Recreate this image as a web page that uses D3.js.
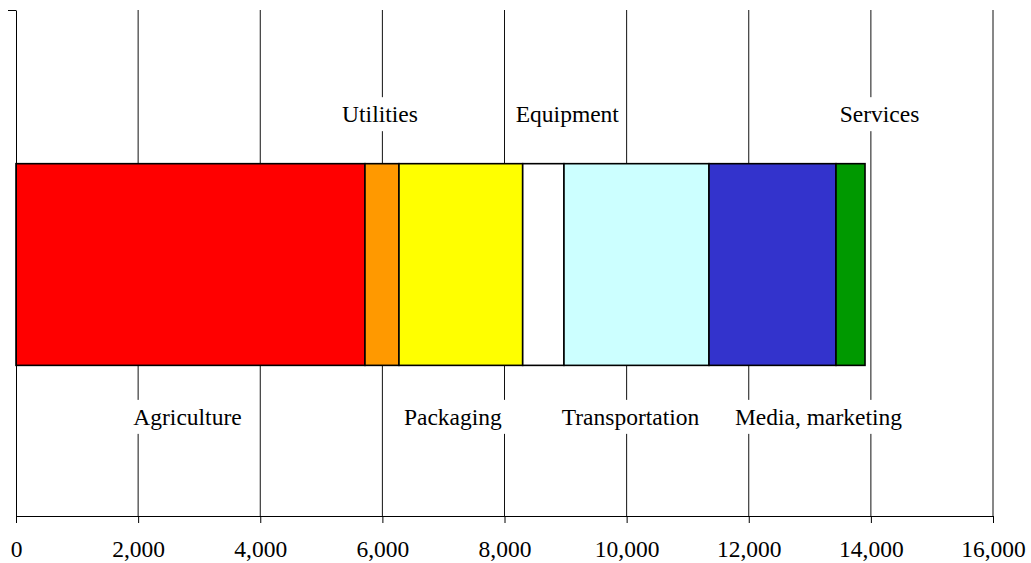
<!DOCTYPE html>
<html>
<head>
<meta charset="utf-8">
<script src="https://cdn.jsdelivr.net/npm/d3@7"></script>
<style>
  html, body { margin: 0; padding: 0; background: #fff; }
  svg { display: block; }
  text { font-family: "Liberation Serif", "Times New Roman", serif; fill: #000; }
</style>
</head>
<body>
<div id="chart"></div>
<script>
// cost breakdown, one stacked bar
const categories = ["Agriculture", "Utilities", "Packaging", "Equipment", "Transportation", "Media, marketing", "Services"];
const values = [5715, 557, 2026, 676, 2375, 2080, 475];
const colors = ["#FF0000", "#FF9900", "#FFFF00", "#FFFFFF", "#CCFFFF", "#3333CC", "#009900"];
const xTicks = [0, 2000, 4000, 6000, 8000, 10000, 12000, 14000, 16000];

const width = 1031;
const height = 563;
const margin = {top: 10, right: 38, bottom: 47, left: 16};

const svg = d3.select("#chart")
    .append("svg")
    .attr("width", width)
    .attr("height", height);

const x = d3.scaleLinear()
    .domain([0, 16000])
    .range([margin.left, width - margin.right]);

const y = d3.scaleBand()
    .domain(["cost"])
    .range([height - margin.bottom, margin.top])
    .padding(0.43)
    .align(0.505);

// which labels sit above the bar (the rest go below)
const aboveSet = new Set(["Utilities", "Equipment", "Services"]);

// stacked segments
let acc = 0;
const segs = categories.map((c, i) => {
    const s = {name: c, x0: acc, x1: acc + values[i], color: colors[i], above: aboveSet.has(c)};
    acc += values[i];
    return s;
});

// vertical gridlines
svg.append("g")
    .selectAll("line")
    .data(xTicks.slice(1))
    .enter().append("line")
    .attr("x1", d => x(d))
    .attr("x2", d => x(d))
    .attr("y1", margin.top)
    .attr("y2", height - margin.bottom)
    .attr("stroke", "#111")
    .attr("stroke-width", 1);

// bar
svg.append("g")
    .selectAll("rect")
    .data(segs)
    .enter().append("rect")
    .attr("x", d => x(d.x0))
    .attr("y", y("cost"))
    .attr("width", d => x(d.x1) - x(d.x0))
    .attr("height", y.bandwidth())
    .attr("fill", d => d.color)
    .attr("stroke", "#000")
    .attr("stroke-width", 1.6);

// bottom axis
const xAxis = svg.append("g")
    .attr("transform", `translate(0,${height - margin.bottom})`)
    .call(d3.axisBottom(x).tickValues(xTicks).tickFormat(d3.format(",")).tickSize(7).tickSizeOuter(0));
xAxis.select(".domain").attr("stroke", "#000");
xAxis.selectAll(".tick line").attr("stroke", "#000");
xAxis.selectAll(".tick text")
    .attr("y", 41)
    .attr("dy", 0)
    .style("font-family", "'Liberation Serif', serif")
    .style("font-size", "23.5px")
    .attr("fill", "#000");

// left axis, just the line and a top tick
const yLine = d3.scaleLinear().domain([0, 1]).range([height - margin.bottom, margin.top]);
const yAxis = svg.append("g")
    .attr("transform", `translate(${margin.left},0)`)
    .call(d3.axisLeft(yLine).tickValues([1]).tickFormat("").tickSize(8).tickSizeOuter(0));
yAxis.select(".domain").attr("stroke", "#000");
yAxis.selectAll(".tick line").attr("stroke", "#000");

// labels, nudged sideways so they don't overlap
const labelShift = [-3, -2, -8, 24, -6, 46, 29];
const barTop = y("cost");
const barBottom = y("cost") + y.bandwidth();

const labels = svg.append("g")
    .selectAll("g")
    .data(segs)
    .enter().append("g");

labels.append("rect").attr("fill", "#fff");

labels.append("text")
    .attr("x", (d, i) => (x(d.x0) + x(d.x1)) / 2 + labelShift[i])
    .attr("y", d => d.above ? barTop - 41.5 : barBottom + 59.5)
    .attr("text-anchor", "middle")
    .style("font-size", "23.5px")
    .text(d => d.name);

labels.each(function() {
    const g = d3.select(this);
    const b = g.select("text").node().getBBox();
    g.select("rect")
        .attr("x", b.x - 3)
        .attr("y", b.y - 4)
        .attr("width", b.width + 6)
        .attr("height", b.height + 8);
});
</script>
</body>
</html>
